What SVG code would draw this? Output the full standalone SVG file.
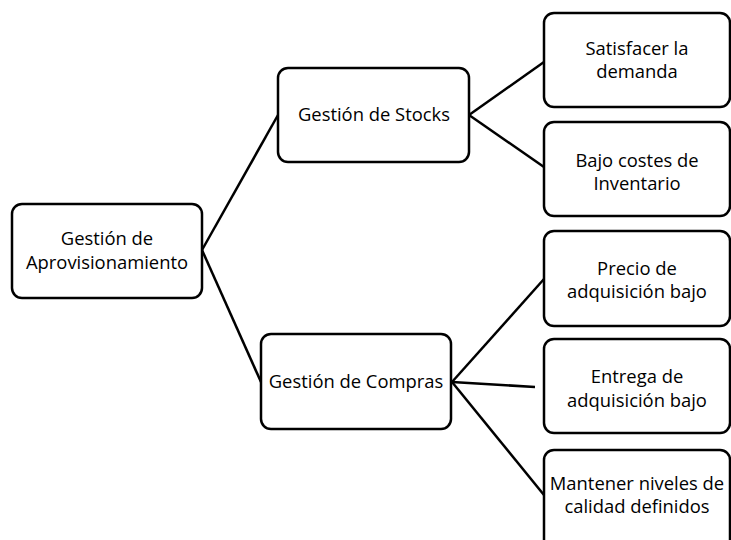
<svg xmlns="http://www.w3.org/2000/svg" width="731" height="540" viewBox="0 0 731 540">
  <style>
    .box { fill: #ffffff; stroke: #000000; stroke-width: 2.5; }
    .edge { stroke: #000000; stroke-width: 2.5; fill: none; }
    text { font-family: "Open Sans", "Liberation Sans", sans-serif; font-size: 18.4px; fill: #000000; text-anchor: middle; }
  </style>
  <rect width="731" height="540" fill="#ffffff"/>
  <g id="connectors">
    <line class="edge" x1="202" y1="250" x2="278" y2="115"/>
    <line class="edge" x1="202" y1="250" x2="261" y2="382"/>
    <line class="edge" x1="469" y1="115" x2="544" y2="62"/>
    <line class="edge" x1="469" y1="115" x2="544" y2="167"/>
    <line class="edge" x1="452" y1="382" x2="544" y2="279"/>
    <line class="edge" x1="452" y1="382" x2="535" y2="387"/>
    <line class="edge" x1="452" y1="382" x2="544" y2="495"/>
  </g>
  <g id="aprovisionamiento">
    <rect class="box" x="12" y="204" width="190" height="94" rx="10"/>
    <text x="107" y="245">Gestión de</text>
    <text x="107" y="269">Aprovisionamiento</text>
  </g>
  <g id="stocks">
    <rect class="box" x="278" y="68" width="191" height="94" rx="10"/>
    <text x="374" y="121">Gestión de Stocks</text>
  </g>
  <g id="compras">
    <rect class="box" x="261" y="334" width="190" height="95" rx="10"/>
    <text x="356" y="388">Gestión de Compras</text>
  </g>
  <g id="satisfacer">
    <rect class="box" x="544" y="13" width="186" height="94" rx="10"/>
    <text x="637" y="55">Satisfacer la</text>
    <text x="637" y="78">demanda</text>
  </g>
  <g id="costes">
    <rect class="box" x="544" y="122" width="186" height="94" rx="10"/>
    <text x="637" y="167">Bajo costes de</text>
    <text x="637" y="190">Inventario</text>
  </g>
  <g id="precio">
    <rect class="box" x="544" y="231" width="186" height="95" rx="10"/>
    <text x="637" y="275">Precio de</text>
    <text x="637" y="298">adquisición bajo</text>
  </g>
  <g id="entrega">
    <rect class="box" x="544" y="339" width="186" height="94" rx="10"/>
    <text x="637" y="383">Entrega de</text>
    <text x="637" y="407">adquisición bajo</text>
  </g>
  <g id="calidad">
    <rect class="box" x="544" y="450" width="186" height="100" rx="10"/>
    <text x="637" y="490">Mantener niveles de</text>
    <text x="637" y="513">calidad definidos</text>
  </g>
</svg>
